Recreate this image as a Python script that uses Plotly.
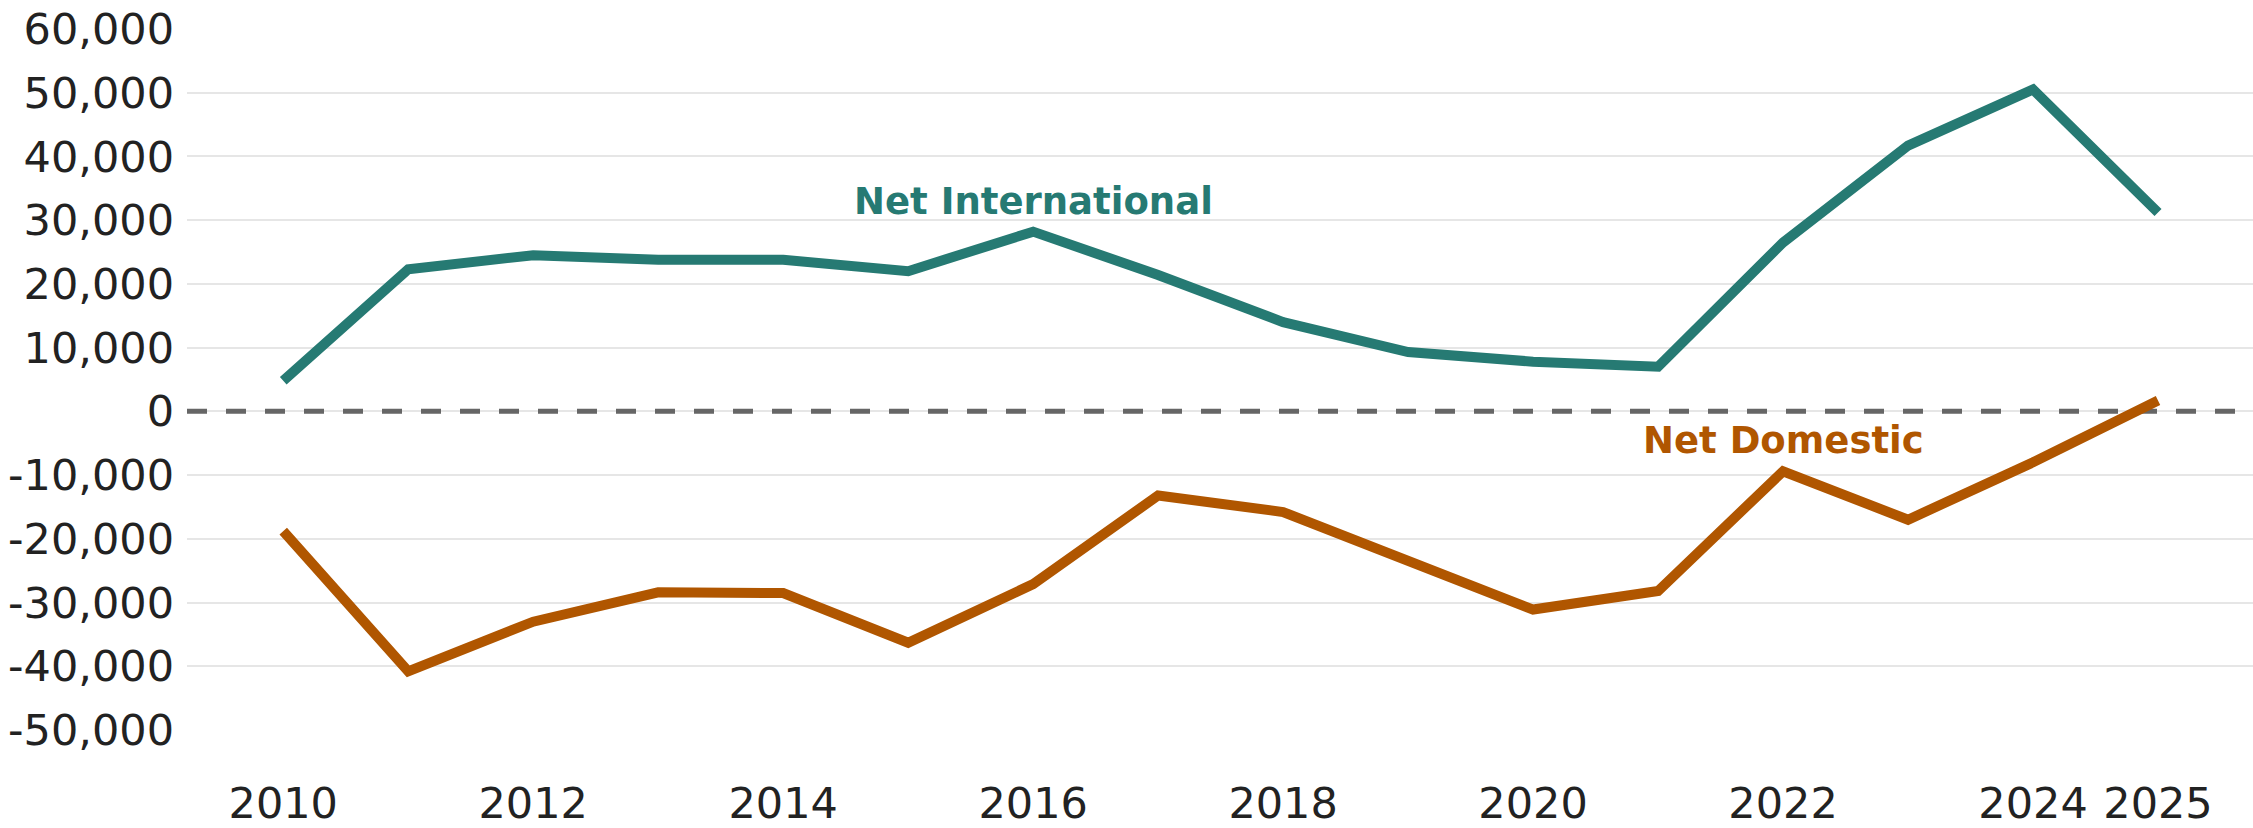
import plotly.graph_objects as go

years = list(range(2010, 2026))
net_international = [4800, 22300, 24500, 23800, 23800, 22000, 28200, 21400,
                     14000, 9300, 7800, 7000, 26500, 41700, 50500, 31200]
net_domestic = [-18800, -40800, -33000, -28400, -28500, -36300, -27100, -13200,
                -15800, -23500, -31100, -28200, -9400, -17000, -8000, 1700]

x_tickvals = [2010, 2012, 2014, 2016, 2018, 2020, 2022, 2024, 2025]
y_tickvals = list(range(-50000, 60001, 10000))
x_range = [2009.23, 2025.76]

teal = "#267a73"
brown = "#b05600"

fig = go.Figure()
# dashed zero reference line (drawn first, under the data lines)
fig.add_trace(go.Scatter(x=x_range, y=[0, 0], mode="lines",
                         line=dict(color="#666666", width=5, dash="20px,19px"),
                         hoverinfo="skip", showlegend=False))
fig.add_trace(go.Scatter(x=years, y=net_international, mode="lines",
                         line=dict(color=teal, width=10), name="Net International",
                         showlegend=False))
fig.add_trace(go.Scatter(x=years, y=net_domestic, mode="lines",
                         line=dict(color=brown, width=10), name="Net Domestic",
                         showlegend=False))

fig.add_annotation(x=2016, y=32900, text="<b>Net International</b>", showarrow=False,
                   font=dict(family="DejaVu Sans", size=37, color=teal))
fig.add_annotation(x=2022, y=-4500, text="<b>Net Domestic</b>", showarrow=False,
                   font=dict(family="DejaVu Sans", size=37, color=brown))

fig.update_layout(
    width=2253, height=828,
    margin=dict(l=187, r=0, t=29, b=92),
    plot_bgcolor="white", paper_bgcolor="white",
    font=dict(family="DejaVu Sans", size=43, color="#222222"),
    xaxis=dict(range=x_range, tickvals=x_tickvals,
               ticktext=[str(v) for v in x_tickvals],
               showgrid=False, zeroline=False, showline=False,
               ticks="", ticklabelstandoff=44),
    yaxis=dict(range=[-50000, 60000], tickvals=y_tickvals,
               ticktext=[f"{v:,}" for v in y_tickvals],
               showgrid=True, gridcolor="#e6e6e6", gridwidth=2,
               zeroline=False, showline=False, ticks="", ticklabelstandoff=12),
)

fig.write_html("out.html", config={"displayModeBar": False},
               post_script="document.body.style.margin='0';")
